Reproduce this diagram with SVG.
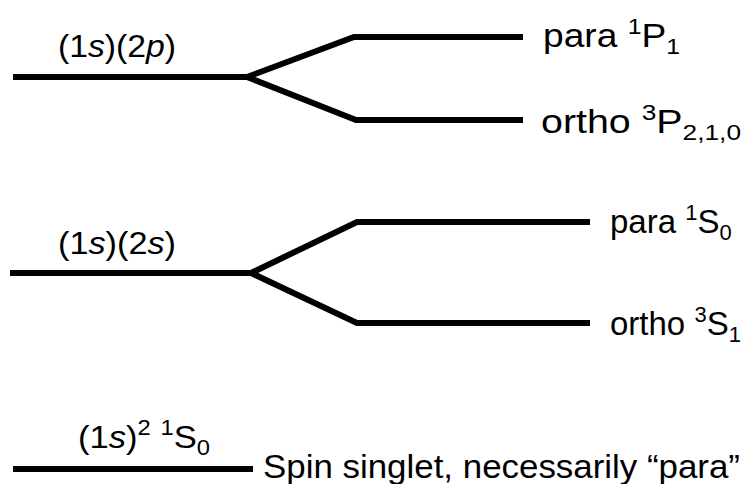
<svg xmlns="http://www.w3.org/2000/svg" width="744" height="484" viewBox="0 0 744 484">
<style>
.lv{fill:none;stroke:#000;stroke-width:6;stroke-linejoin:miter;stroke-linecap:butt}
text{font-family:"Liberation Sans",Arial,sans-serif;font-size:33px;fill:#000}
.lab{font-size:32px}
.sm{font-size:22px}
.it{font-style:italic}
</style>
<rect width="744" height="484" fill="#fff"/>
<g id="connectors">
<path class="lv" d="M13,77 H247 L354,37 H523"/>
<path class="lv" d="M247,77 L356,120 H523"/>
<path class="lv" d="M10,273 H251 L357,222 H590"/>
<path class="lv" d="M251,273 L357,323 H590"/>
<path class="lv" d="M13,469 H253"/>
</g>
<g id="n_1s2p"><text class="lab" x="58" y="57" textLength="118" lengthAdjust="spacingAndGlyphs">(1<tspan class="it">s</tspan>)(2<tspan class="it">p</tspan>)</text></g>
<g id="n_para1P1"><text x="543" y="47" textLength="137" lengthAdjust="spacingAndGlyphs">para <tspan class="sm" dy="-13">1</tspan><tspan dy="13">P</tspan><tspan class="sm" dy="7">1</tspan></text></g>
<g id="n_ortho3P"><text x="541" y="133" textLength="200" lengthAdjust="spacingAndGlyphs">ortho <tspan class="sm" dy="-13">3</tspan><tspan dy="13">P</tspan><tspan class="sm" dy="7">2,1,0</tspan></text></g>
<g id="n_1s2s"><text class="lab" x="58" y="254" textLength="118" lengthAdjust="spacingAndGlyphs">(1<tspan class="it">s</tspan>)(2<tspan class="it">s</tspan>)</text></g>
<g id="n_para1S0"><text x="610" y="233">para <tspan class="sm" dy="-13">1</tspan><tspan dy="13">S</tspan><tspan class="sm" dy="7">0</tspan></text></g>
<g id="n_ortho3S1"><text x="610" y="335">ortho <tspan class="sm" dy="-13">3</tspan><tspan dy="13">S</tspan><tspan class="sm" dy="7">1</tspan></text></g>
<g id="n_ground"><text class="lab" x="78" y="448" textLength="132" lengthAdjust="spacingAndGlyphs">(1<tspan class="it">s</tspan>)<tspan class="sm" dy="-13">2</tspan><tspan dy="13"> </tspan><tspan class="sm" dy="-13">1</tspan><tspan dy="13">S</tspan><tspan class="sm" dy="7">0</tspan></text></g>
<g id="n_singlet"><text x="263" y="478" textLength="477" lengthAdjust="spacingAndGlyphs">Spin singlet, necessarily “para”</text></g>
</svg>
